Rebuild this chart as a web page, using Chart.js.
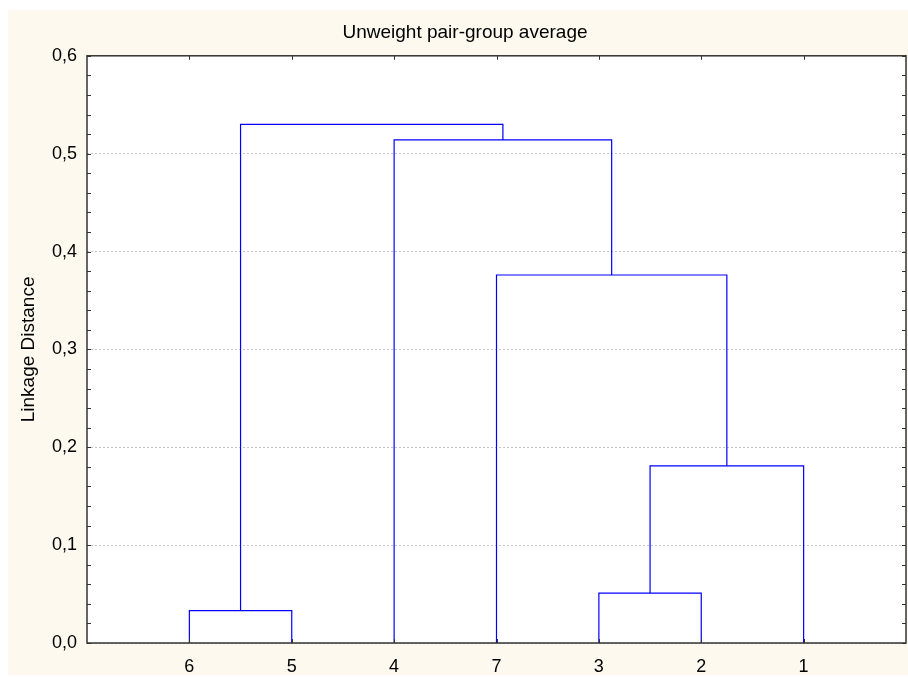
<!DOCTYPE html>
<html>
<head>
<meta charset="utf-8">
<script src="https://cdn.jsdelivr.net/npm/chart.js@4/dist/chart.umd.min.js"></script>
<style>
    html, body { margin: 0; padding: 0; background: #ffffff; overflow: hidden; }
    #wrap { position: absolute; left: 8px; top: 10px; width: 914px; height: 665px; background: #fdf9ef; }
</style>
</head>
<body>
<div id="wrap"><canvas id="dendro" width="914" height="665"></canvas></div>
<script>
// leaf order along the x axis
const leafLabels = ['6', '5', '4', '7', '3', '2', '1'];
// merges: children are leaf labels or earlier nodes n0, n1, ...
const mergeLeft = ['6', '3', 'n1', '7', '4', 'n0'];
const mergeRight = ['5', '2', '1', 'n2', 'n3', 'n4'];
const mergeHeight = [0.033, 0.051, 0.181, 0.376, 0.514, 0.530];
const yTicks = [0, 0.1, 0.2, 0.3, 0.4, 0.5, 0.6];

const FONT = '"Liberation Sans", Arial, sans-serif';

document.addEventListener('DOMContentLoaded', function () {
    const ctx = document.getElementById('dendro').getContext('2d');

    // position of each leaf / node in data units
    const pos = {};
    leafLabels.forEach((l, i) => { pos[l] = { x: i + 1, y: 0 }; });

    const datasets = mergeHeight.map((h, i) => {
        const a = pos[mergeLeft[i]];
        const b = pos[mergeRight[i]];
        pos['n' + i] = { x: (a.x + b.x) / 2, y: h };
        return {
            data: [{ x: a.x, y: a.y }, { x: a.x, y: h }, { x: b.x, y: h }, { x: b.x, y: b.y }],
            showLine: true,
            borderColor: '#0000ff',
            borderWidth: 1.2,
            pointRadius: 0,
            tension: 0,
            clip: false
        };
    });

    // white plot area, frame with inward ticks
    const framePlugin = {
        id: 'frame',
        beforeDraw(chart) {
            const a = chart.chartArea;
            chart.ctx.save();
            chart.ctx.fillStyle = '#ffffff';
            chart.ctx.fillRect(a.left, a.top, a.right - a.left, a.bottom - a.top);
            chart.ctx.restore();
        },
        afterDraw(chart) {
            const c = chart.ctx;
            const a = chart.chartArea;
            const xs = chart.scales.x;
            const ys = chart.scales.y;
            c.save();
            c.strokeStyle = '#333333';
            c.lineWidth = 1;
            c.beginPath();
            for (let v = 0; v <= 0.6001; v += 0.02) {
                const py = Math.round(ys.getPixelForValue(v)) + 0.5;
                c.moveTo(a.left, py); c.lineTo(a.left + 4, py);
                c.moveTo(a.right, py); c.lineTo(a.right - 4, py);
            }
            leafLabels.forEach((l, i) => {
                const px = Math.round(xs.getPixelForValue(i + 1)) + 0.5;
                c.moveTo(px, a.top); c.lineTo(px, a.top + 4);
                c.moveTo(px, a.bottom); c.lineTo(px, a.bottom - 4);
            });
            c.stroke();
            c.lineWidth = 1.5;
            c.strokeRect(a.left, a.top, a.right - a.left, a.bottom - a.top);
            c.restore();
        }
    };

    new Chart(ctx, {
        type: 'scatter',
        data: { datasets: datasets },
        options: {
            responsive: false,
            animation: false,
            layout: { padding: 0 },
            plugins: {
                legend: { display: false },
                tooltip: { enabled: false },
                title: {
                    display: true,
                    text: 'Unweight pair-group average',
                    color: '#000000',
                    font: { family: FONT, size: 19, weight: 'normal' },
                    padding: { top: 11, bottom: 12 }
                }
            },
            scales: {
                x: {
                    type: 'linear',
                    min: 0,
                    max: 8,
                    afterBuildTicks: scale => { scale.ticks = leafLabels.map((l, i) => ({ value: i + 1 })); },
                    afterFit: scale => { scale.height = 32; },
                    grid: { display: false, drawTicks: false },
                    border: { display: false },
                    ticks: {
                        padding: 13,
                        color: '#000000',
                        font: { family: FONT, size: 18 },
                        callback: v => leafLabels[v - 1]
                    }
                },
                y: {
                    min: 0,
                    max: 0.6,
                    afterBuildTicks: scale => { scale.ticks = yTicks.map(v => ({ value: v })); },
                    afterFit: scale => { scale.width = 79; },
                    grid: { color: '#c4c4c4', drawTicks: false, lineWidth: 1 },
                    border: { display: false, dash: [2, 2] },
                    ticks: {
                        padding: 10,
                        color: '#000000',
                        font: { family: FONT, size: 18 },
                        callback: v => v.toFixed(1).replace('.', ',')
                    },
                    title: {
                        display: true,
                        text: 'Linkage Distance',
                        color: '#000000',
                        font: { family: FONT, size: 19 },
                        padding: { top: 9, bottom: 0 }
                    }
                },
                // empty right axis, only keeps space so the title stays centred on the page
                yRight: {
                    position: 'right',
                    min: 0,
                    max: 0.6,
                    afterFit: scale => { scale.width = 16; },
                    grid: { display: false, drawTicks: false },
                    border: { display: false },
                    ticks: { display: false }
                }
            }
        },
        plugins: [framePlugin]
    });
});
</script>
</body>
</html>
